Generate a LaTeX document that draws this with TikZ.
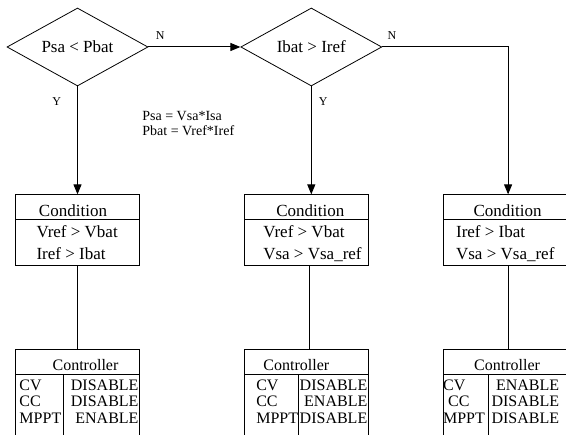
\documentclass[tikz,border=0pt]{standalone}
\usepackage{fontspec}
\setmainfont{Liberation Serif}
\usepackage{array}
\usetikzlibrary{positioning, arrows.meta, shapes.geometric, shapes.multipart}

\setlength{\tabcolsep}{0pt}
\setlength{\arrayrulewidth}{0.8pt}

% top part of a box: 24pt in all, text close to the bottom
\newcommand{\headcell}[2][0pt]{\parbox[c][21pt][b]{124pt}{\centering\hspace*{#1}#2\rule[-3pt]{0pt}{3pt}}}
% two condition lines, 45pt in all
\newcommand{\condcell}[3]{\parbox[c][40pt][b]{124pt}{\hspace*{#1}#2\\\hspace*{#1}#3\rule[-5pt]{0pt}{5pt}}}
% controller table: left pad, divider position, right pad, rows
\newcommand{\ctrltable}[4]{%
  \begin{tabular}{@{\hspace{#1}}p{\dimexpr#2-#1\relax}|>{\raggedleft\arraybackslash}p{\dimexpr124pt-#2-#3-\arrayrulewidth\relax}@{\hspace{#3}}}
    \rule{0pt}{16pt}#4\\
    \rule{0pt}{25pt} &
  \end{tabular}}

\begin{document}
\begin{tikzpicture}[
  x=1pt, y=1pt, line width=0.8pt,
  decision/.style={diamond, draw, aspect=1.8, minimum width=141pt, minimum height=78pt,
    inner sep=0pt, font=\fontsize{17}{20}\selectfont},
  condbox/.style={rectangle split, rectangle split parts=2, draw, inner sep=0pt,
    font=\fontsize{17}{22}\selectfont},
  ctrlbox/.style={condbox, font=\fontsize{16}{16.5}\selectfont},
  tag/.style={font=\fontsize{12}{14}\selectfont, inner sep=2pt},
  arrow/.style={-{Triangle[length=10pt, width=8pt]}, line width=1pt},
  link/.style={line width=0.9pt}
]
  \useasboundingbox (0,0) rectangle (566,435);
  \clip (0,0) rectangle (566,435);

  % decisions
  \node[decision] (cmpP) at (77.5,388) {Psa < Pbat};
  \node[decision, right=92pt of cmpP] (cmpI) {Ibat > Iref};

  \node[align=left, anchor=north west, inner sep=0pt, font=\fontsize{14}{15}\selectfont]
    (power) at (142,324) {Psa = Vsa*Isa\\Pbat = Vref*Iref};

  % condition boxes
  \node[condbox, below=108pt of cmpP] (cond1)
    {\headcell[-9pt]{Condition}\nodepart{two}\condcell{21pt}{Vref > Vbat}{Iref > Ibat}};
  \node[condbox, below=108pt of cmpI, xshift=-5pt] (cond2)
    {\headcell[8pt]{Condition}\nodepart{two}\condcell{19pt}{Vref > Vbat}{Vsa > Vsa\_ref}};
  \node[condbox, right=74pt of cond2] (cond3)
    {\headcell[5pt]{Condition}\nodepart{two}\condcell{13pt}{Iref > Ibat}{Vsa > Vsa\_ref}};

  % controller boxes
  \node[ctrlbox, below=83pt of cond1] (ctrl1)
    {\headcell[16pt]{Controller}\nodepart{two}\ctrltable{4pt}{48pt}{1pt}{CV & DISABLE\\ CC & DISABLE\\ MPPT & ENABLE}};
  \node[ctrlbox, below=83pt of cond2] (ctrl2)
    {\headcell[-20pt]{Controller}\nodepart{two}\ctrltable{12pt}{54pt}{1pt}{CV & DISABLE\\ CC & ENABLE\\ MPPT & DISABLE}};
  \node[ctrlbox, below=83pt of cond3] (ctrl3)
    {\headcell[4pt]{Controller}\nodepart{two}\ctrltable{0pt}{45pt}{8pt}{CV & ENABLE\\ \hspace*{5pt}CC & DISABLE\\ MPPT & DISABLE}};

  % branches
  \draw[arrow] (cmpP.east) -- (cmpI.west)
    node[tag, pos=0, anchor=south west, xshift=5pt, yshift=5pt] (n1) {N};
  \draw[arrow] (cmpP.south) -- (cond1.north)
    node[tag, pos=0.14, left=14pt] (y1) {Y};
  \draw[arrow] (cmpI.south) -- (cmpI.south |- cond2.north)
    node[tag, pos=0.14, right=5pt] (y2) {Y};
  \draw[arrow] (cmpI.east) -| ([xshift=3pt]cond3.north)
    node[tag, pos=0, anchor=south west, xshift=3pt, yshift=5pt] (n2) {N};

  % condition to controller
  \draw[link] (cond1.south) -- (ctrl1.north);
  \draw[link] ([xshift=3pt]cond2.south) -- ([xshift=3pt]ctrl2.north);
  \draw[link] ([xshift=3pt]cond3.south) -- ([xshift=3pt]ctrl3.north);
\end{tikzpicture}
\end{document}
